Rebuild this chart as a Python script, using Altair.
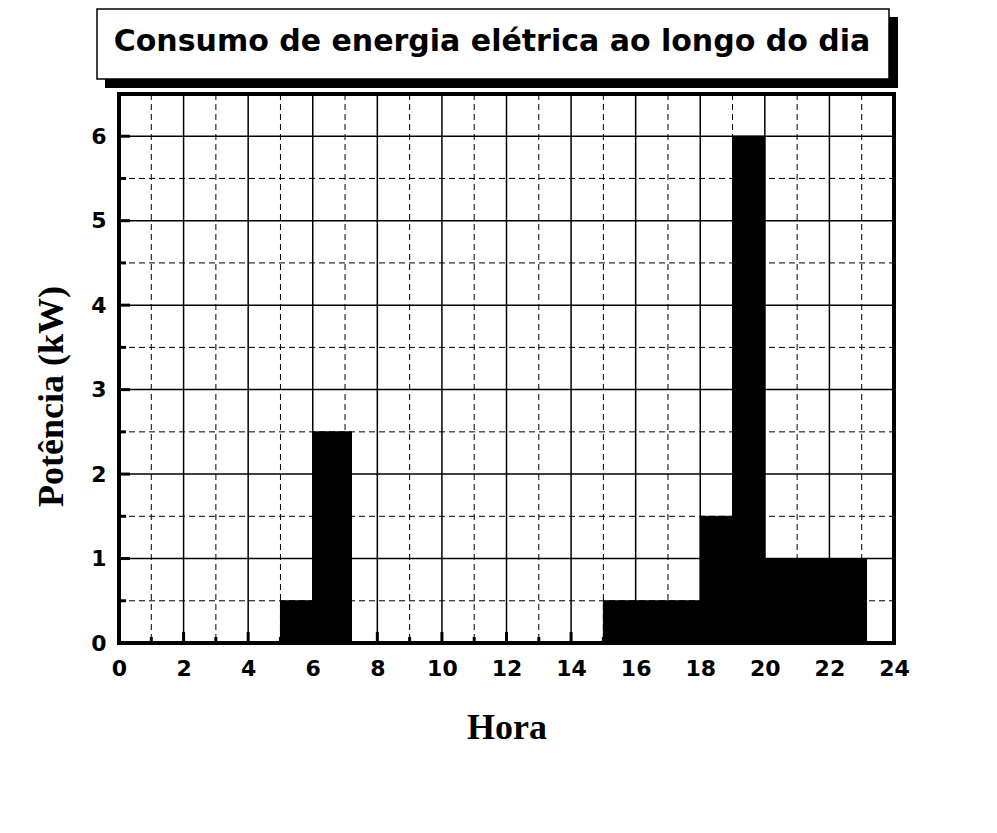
import altair as alt
import pandas as pd

# ---- data ----
bar_start = [5, 6, 15, 18, 19, 20]
bar_end = [6, 7.2, 18, 19, 20, 23.15]
power_kw = [0.5, 2.5, 0.5, 1.5, 6, 1]

x_major = [2, 4, 6, 8, 10, 12, 14, 16, 18, 20, 22]
x_minor = [1, 3, 5, 7, 9, 11, 13, 15, 17, 19, 21, 23]
y_major = [1, 2, 3, 4, 5, 6]
y_minor = [0.5, 1.5, 2.5, 3.5, 4.5, 5.5]
x_labels = list(range(0, 25, 2))
y_labels = list(range(0, 7))

title_text = "Consumo de energia elétrica ao longo do dia"
x_title = "Hora"
y_title = "Potência (kW)"

W, H = 775, 549

bars = pd.DataFrame({"start": bar_start, "end": bar_end, "kw": power_kw})
xmaj = pd.DataFrame({"h": x_major})
xmin = pd.DataFrame({"h": x_minor})
ymaj = pd.DataFrame({"p": y_major})
ymin = pd.DataFrame({"p": y_minor})
one = pd.DataFrame({"t": [title_text]})

xscale = alt.Scale(domain=[0, 24], nice=False, zero=False)
yscale = alt.Scale(domain=[0, 6.5], nice=False, zero=False)

lab = dict(labelFont="DejaVu Sans", labelFontWeight="bold", labelFontSize=22,
           labelColor="black", labelFlush=False, labelOverlap=False,
           domain=False, ticks=False, grid=False)
ttl = dict(titleFont="Liberation Serif", titleFontWeight="bold", titleFontSize=36,
           titleColor="black")

x_axis = alt.Axis(values=x_labels, title=x_title, labelPadding=15,
                  titleX=W / 2, titleY=95, titleBaseline="alphabetic",
                  titleAlign="center", **lab, **ttl)
y_axis = alt.Axis(values=y_labels, title=y_title, labelPadding=13,
                  titleAngle=270, titleX=-57, titleY=302,
                  titleBaseline="alphabetic", titleAlign="center", **lab, **ttl)

X = lambda f: alt.X(f, type="quantitative", scale=xscale, axis=x_axis)
Y = lambda f: alt.Y(f, type="quantitative", scale=yscale, axis=y_axis)

# grid lines
vmaj = alt.Chart(xmaj).mark_rule(color="black", strokeWidth=1.5).encode(
    x=X("h"), y=alt.value(0), y2=alt.value(H))
vmin = alt.Chart(xmin).mark_rule(color="black", strokeWidth=1, strokeDash=[6, 4]).encode(
    x=X("h"), y=alt.value(0), y2=alt.value(H))
hmaj = alt.Chart(ymaj).mark_rule(color="black", strokeWidth=1.5).encode(
    y=Y("p"), x=alt.value(0), x2=alt.value(W))
hmin = alt.Chart(ymin).mark_rule(color="black", strokeWidth=1, strokeDash=[6, 4]).encode(
    y=Y("p"), x=alt.value(0), x2=alt.value(W))

# bars
rects = alt.Chart(bars).transform_calculate(base="0").mark_rect(
    fill="black", stroke="black", strokeWidth=1).encode(
    x=X("start"), x2="end", y=Y("base"), y2="kw")

# inward ticks
tx_maj = alt.Chart(xmaj).mark_rule(color="black", strokeWidth=3).encode(
    x=X("h"), y=alt.value(H), y2=alt.value(H - 11))
tx_min = alt.Chart(xmin).mark_rule(color="black", strokeWidth=3).encode(
    x=X("h"), y=alt.value(H), y2=alt.value(H - 6))
ty_maj = alt.Chart(ymaj).mark_rule(color="black", strokeWidth=3).encode(
    y=Y("p"), x=alt.value(0), x2=alt.value(11))
ty_min = alt.Chart(ymin).mark_rule(color="black", strokeWidth=3).encode(
    y=Y("p"), x=alt.value(0), x2=alt.value(7))

# title box with shadow
shadow = alt.Chart(one).mark_rect(color="black").encode(
    x=alt.value(-14), x2=alt.value(779), y=alt.value(-77), y2=alt.value(-6))
box = alt.Chart(one).mark_rect(fill="white", stroke="black", strokeWidth=1.5).encode(
    x=alt.value(-22), x2=alt.value(770), y=alt.value(-85), y2=alt.value(-15))
ttext = alt.Chart(one).mark_text(font="DejaVu Sans", fontWeight="bold", fontSize=30,
                                 color="black", align="center", baseline="alphabetic").encode(
    text="t:N", x=alt.value(373), y=alt.value(-43))

chart = alt.layer(
    vmaj, vmin, hmaj, hmin, rects, tx_maj, tx_min, ty_maj, ty_min, shadow, box, ttext
).properties(
    width=W, height=H,
    autosize=alt.AutoSizeParams(type="none"),
    padding={"left": 111, "top": 86, "right": 80, "bottom": 150},
).configure(background="white").configure_view(stroke="black", strokeWidth=4)

chart.save("out.html", embed_options={"renderer": "svg", "actions": False})
